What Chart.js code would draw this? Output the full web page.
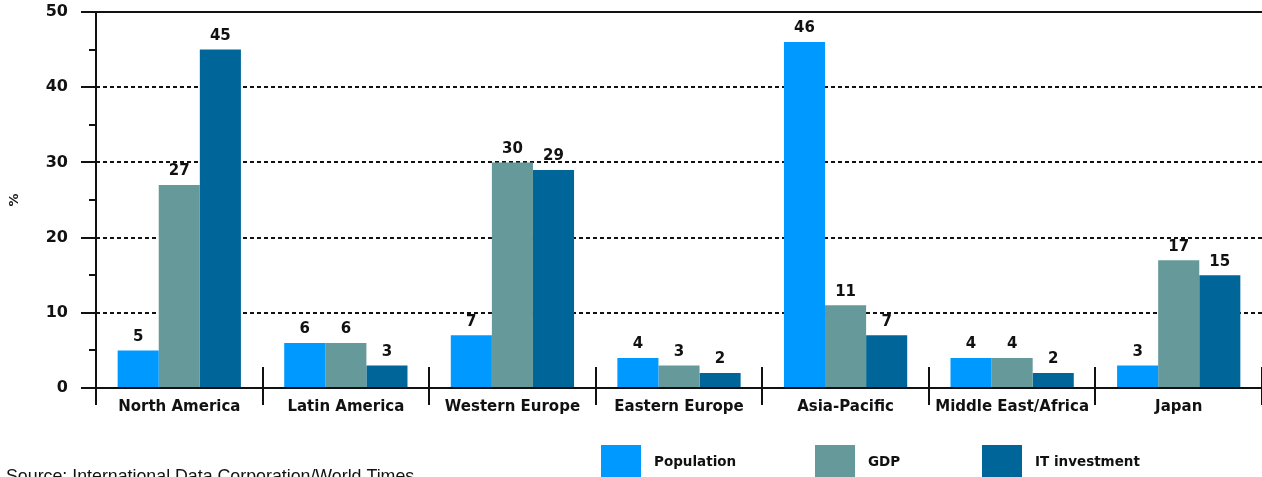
<!DOCTYPE html>
<html>
<head>
<meta charset="utf-8">
<script src="https://cdn.jsdelivr.net/npm/chart.js@4.4.0/dist/chart.umd.min.js"></script>
<style>
  body { margin: 0; background: #fff; }
  #wrap { width: 1262px; height: 477px; position: relative; }
</style>
</head>
<body>
<div id="wrap"><canvas id="chart"></canvas></div>
<script>
// datos del grafico
const regions = ['North America', 'Latin America', 'Western Europe', 'Eastern Europe', 'Asia-Pacific', 'Middle East/Africa', 'Japan'];
const population = [5, 6, 7, 4, 46, 4, 3];
const gdp = [27, 6, 30, 3, 11, 4, 17];
const itInvestment = [45, 3, 29, 2, 7, 2, 15];
const yTicks = [0, 10, 20, 30, 40, 50];
const sourceText = 'Source: International Data Corporation/World Times';

const colors = ['#0099ff', '#669999', '#006699'];

// Dibuja ejes, cuadricula, etiquetas y leyenda
const decorPlugin = {
    id: 'decor',
    beforeDatasetsDraw(chart) {
        const ctx = chart.ctx;
        const area = chart.chartArea;
        const y = chart.scales.y;
        ctx.save();
        ctx.strokeStyle = '#111';
        ctx.lineWidth = 2;

        // lineas punteadas
        ctx.setLineDash([4, 3]);
        yTicks.forEach(v => {
            if (v === 0 || v === 50) return;
            const py = Math.round(y.getPixelForValue(v));
            ctx.beginPath();
            ctx.moveTo(area.left, py);
            ctx.lineTo(area.right, py);
            ctx.stroke();
        });
        ctx.setLineDash([]);

        // linea superior
        const top = Math.round(y.getPixelForValue(50));
        ctx.beginPath();
        ctx.moveTo(area.left - 15, top);
        ctx.lineTo(area.right, top);
        ctx.stroke();

        // marcas del eje y
        for (let v = 0; v <= 50; v += 5) {
            const py = Math.round(y.getPixelForValue(v));
            const len = v % 10 === 0 ? 15 : 7;
            ctx.beginPath();
            ctx.moveTo(area.left - len, py);
            ctx.lineTo(area.left, py);
            ctx.stroke();
        }
        ctx.restore();
    },
    afterDatasetsDraw(chart) {
        const ctx = chart.ctx;
        const area = chart.chartArea;
        const y = chart.scales.y;
        ctx.save();
        ctx.strokeStyle = '#111';
        ctx.lineWidth = 2;

        // eje x
        const base = Math.round(y.getPixelForValue(0));
        ctx.beginPath();
        ctx.moveTo(area.left - 15, base);
        ctx.lineTo(area.right, base);
        ctx.stroke();

        // eje y
        ctx.beginPath();
        ctx.moveTo(area.left, area.top);
        ctx.lineTo(area.left, base + 17);
        ctx.stroke();

        // separadores de categorias
        const step = (area.right - area.left) / regions.length;
        for (let i = 1; i <= regions.length; i++) {
            const px = Math.round(area.left + step * i);
            ctx.beginPath();
            ctx.moveTo(px, base - 21);
            ctx.lineTo(px, base + 17);
            ctx.stroke();
        }

        // etiquetas de valores
        ctx.fillStyle = '#111';
        ctx.font = 'bold 15px "DejaVu Sans"';
        ctx.textAlign = 'center';
        ctx.textBaseline = 'bottom';
        chart.data.datasets.forEach((ds, di) => {
            const meta = chart.getDatasetMeta(di);
            meta.data.forEach((bar, i) => {
                ctx.fillText(String(ds.data[i]), bar.x, bar.y - 6);
            });
        });

        // leyenda
        const legendX = [601, 815, 982];
        ctx.font = 'bold 13.5px "DejaVu Sans"';
        ctx.textAlign = 'left';
        ctx.textBaseline = 'middle';
        chart.data.datasets.forEach((ds, di) => {
            ctx.fillStyle = ds.backgroundColor;
            ctx.fillRect(legendX[di], 445, 40, 34);
            ctx.fillStyle = '#111';
            ctx.fillText(ds.label, legendX[di] + 53, 462);
        });

        // fuente
        ctx.font = '17.8px "Liberation Sans"';
        ctx.textBaseline = 'alphabetic';
        ctx.fillText(sourceText, 6, 482);
        ctx.restore();
    }
};

new Chart(document.getElementById('chart'), {
    type: 'bar',
    data: {
        labels: regions,
        datasets: [
            { label: 'Population', data: population, backgroundColor: colors[0] },
            { label: 'GDP', data: gdp, backgroundColor: colors[1] },
            { label: 'IT investment', data: itInvestment, backgroundColor: colors[2] }
        ]
    },
    options: {
        responsive: true,
        maintainAspectRatio: false,
        animation: false,
        categoryPercentage: 0.74,
        barPercentage: 1.0,
        layout: { autoPadding: false, padding: { top: 12, right: 0, left: 0, bottom: 0 } },
        plugins: {
            legend: { display: false },
            tooltip: { enabled: false }
        },
        scales: {
            x: {
                grid: { display: false, drawTicks: false },
                border: { display: false },
                ticks: {
                    color: '#111',
                    padding: 10,
                    maxRotation: 0,
                    autoSkip: false,
                    font: { family: 'DejaVu Sans', size: 15, weight: 'bold' }
                },
                afterFit(scale) {
                    scale.height = 89;
                    scale.paddingLeft = 0;
                    scale.paddingRight = 0;
                }
            },
            y: {
                min: 0,
                max: 50,
                grid: { display: false, drawTicks: false },
                border: { display: false },
                ticks: {
                    stepSize: 10,
                    color: '#111',
                    padding: 28,
                    font: { family: 'DejaVu Sans', size: 16, weight: 'bold' }
                },
                title: {
                    display: true,
                    text: '%',
                    color: '#111',
                    padding: { top: 7, bottom: 0 },
                    font: { family: 'DejaVu Sans', size: 13, weight: 'bold' }
                },
                afterFit(scale) {
                    scale.width = 96;
                    scale.paddingTop = 0;
                    scale.paddingBottom = 0;
                }
            }
        }
    },
    plugins: [decorPlugin]
});
</script>
</body>
</html>
